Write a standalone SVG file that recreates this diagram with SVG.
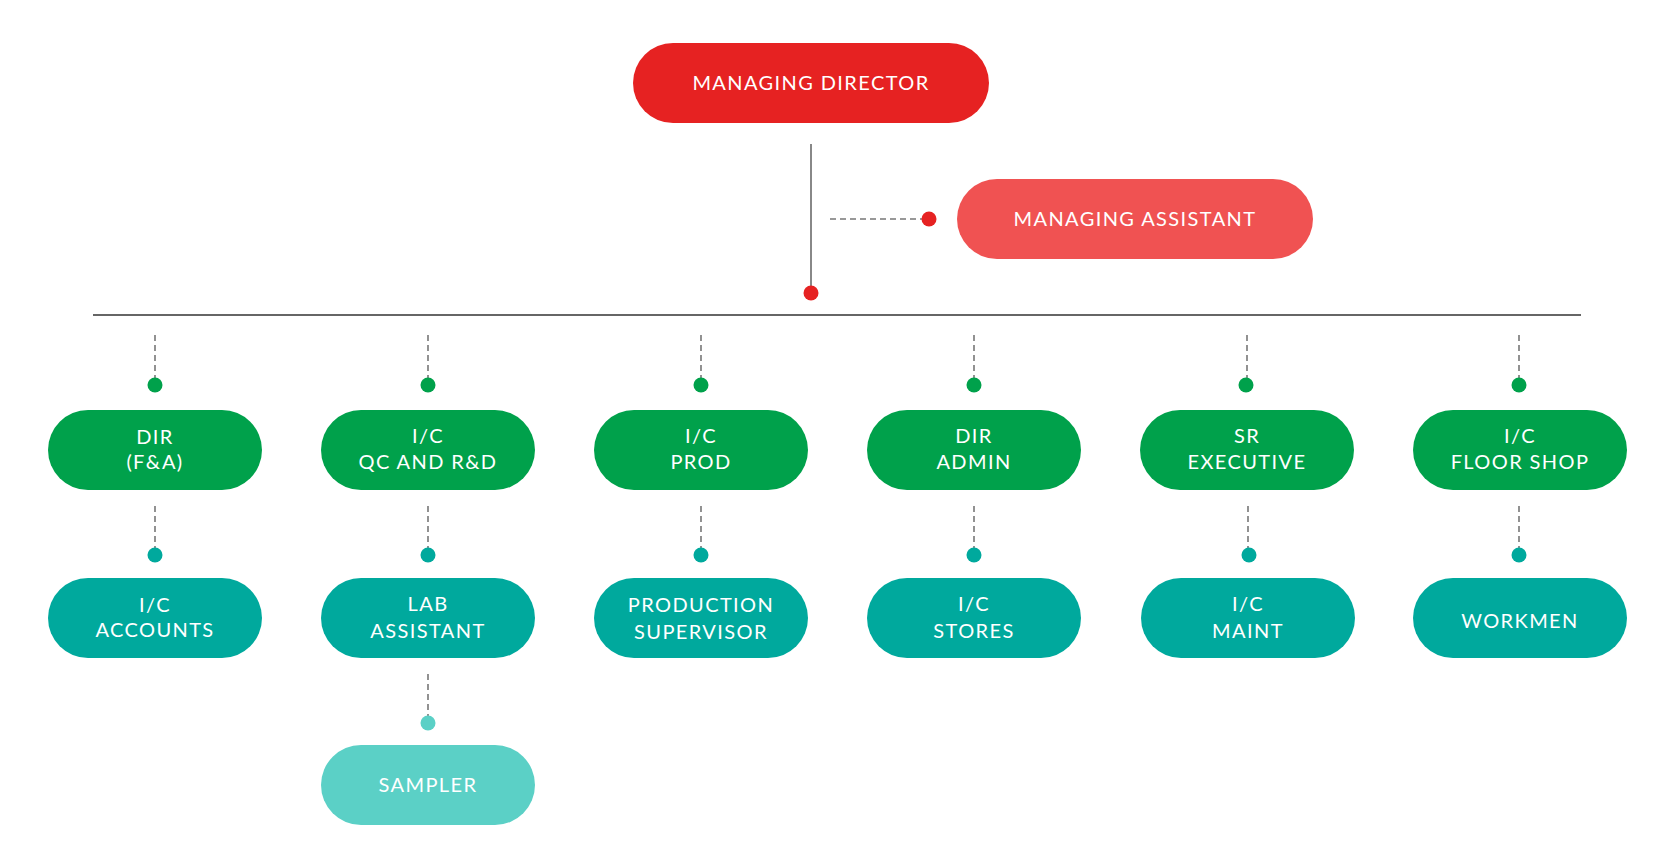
<svg xmlns="http://www.w3.org/2000/svg" width="1679" height="849" viewBox="0 0 1679 849">
<style>
text{font-family:Lato,"Open Sans","Liberation Sans",sans-serif;font-size:20px;fill:#ffffff;text-anchor:middle;letter-spacing:1.4px}
.red{fill:#E62222}.pink{fill:#F05252}.green{fill:#00A14B}.teal{fill:#00A99D}.light{fill:#5BD0C6}
.dash{stroke:#777;stroke-width:1.6;stroke-dasharray:6 4;fill:none}
.solid{stroke:#888;stroke-width:2;fill:none}
.bar{stroke:#666;stroke-width:2;fill:none}
</style>
<rect width="1679" height="849" fill="#ffffff"/>
<g id="connectors">
<line class="solid" x1="811" y1="144" x2="811" y2="292"/>
<circle class="red" cx="811" cy="293" r="7.5"/>
<line class="dash" x1="830" y1="219" x2="922" y2="219"/>
<circle class="red" cx="929" cy="219" r="7.5"/>
<line class="bar" x1="93" y1="315" x2="1581" y2="315"/>
<line class="dash" x1="155" y1="335" x2="155" y2="378"/>
<line class="dash" x1="428" y1="335" x2="428" y2="378"/>
<line class="dash" x1="701" y1="335" x2="701" y2="378"/>
<line class="dash" x1="974" y1="335" x2="974" y2="378"/>
<line class="dash" x1="1247" y1="335" x2="1247" y2="378"/>
<line class="dash" x1="1519" y1="335" x2="1519" y2="378"/>
<circle class="green" cx="155" cy="385" r="7.5"/>
<circle class="green" cx="428" cy="385" r="7.5"/>
<circle class="green" cx="701" cy="385" r="7.5"/>
<circle class="green" cx="974" cy="385" r="7.5"/>
<circle class="green" cx="1246" cy="385" r="7.5"/>
<circle class="green" cx="1519" cy="385" r="7.5"/>
<line class="dash" x1="155" y1="506" x2="155" y2="548"/>
<line class="dash" x1="428" y1="506" x2="428" y2="548"/>
<line class="dash" x1="701" y1="506" x2="701" y2="548"/>
<line class="dash" x1="974" y1="506" x2="974" y2="548"/>
<line class="dash" x1="1248" y1="506" x2="1248" y2="548"/>
<line class="dash" x1="1519" y1="506" x2="1519" y2="548"/>
<circle class="teal" cx="155" cy="555" r="7.5"/>
<circle class="teal" cx="428" cy="555" r="7.5"/>
<circle class="teal" cx="701" cy="555" r="7.5"/>
<circle class="teal" cx="974" cy="555" r="7.5"/>
<circle class="teal" cx="1249" cy="555" r="7.5"/>
<circle class="teal" cx="1519" cy="555" r="7.5"/>
<line class="dash" x1="428" y1="674" x2="428" y2="716"/>
<circle class="light" cx="428" cy="723" r="7.5"/>
</g>
<g id="managing-director"><rect class="red" x="633" y="43" width="356" height="80" rx="40"/><text x="811" y="90">MANAGING DIRECTOR</text></g>
<g id="managing-assistant"><rect class="pink" x="957" y="179" width="356" height="80" rx="40"/><text x="1135" y="226">MANAGING ASSISTANT</text></g>
<g id="dir-fa"><rect class="green" x="48" y="410" width="214" height="80" rx="40"/><text x="155" y="444">DIR</text><text x="155" y="469">(F&amp;A)</text></g>
<g id="ic-qc"><rect class="green" x="321" y="410" width="214" height="80" rx="40"/><text x="428" y="443">I/C</text><text x="428" y="469">QC AND R&amp;D</text></g>
<g id="ic-prod"><rect class="green" x="594" y="410" width="214" height="80" rx="40"/><text x="701" y="443">I/C</text><text x="701" y="469">PROD</text></g>
<g id="dir-admin"><rect class="green" x="867" y="410" width="214" height="80" rx="40"/><text x="974" y="443">DIR</text><text x="974" y="469">ADMIN</text></g>
<g id="sr-exec"><rect class="green" x="1140" y="410" width="214" height="80" rx="40"/><text x="1247" y="443">SR</text><text x="1247" y="469">EXECUTIVE</text></g>
<g id="ic-floor"><rect class="green" x="1413" y="410" width="214" height="80" rx="40"/><text x="1520" y="443">I/C</text><text x="1520" y="469">FLOOR SHOP</text></g>
<g id="ic-accounts"><rect class="teal" x="48" y="578" width="214" height="80" rx="40"/><text x="155" y="612">I/C</text><text x="155" y="637">ACCOUNTS</text></g>
<g id="lab-assistant"><rect class="teal" x="321" y="578" width="214" height="80" rx="40"/><text x="428" y="611">LAB</text><text x="428" y="638">ASSISTANT</text></g>
<g id="prod-supervisor"><rect class="teal" x="594" y="578" width="214" height="80" rx="40"/><text x="701" y="612">PRODUCTION</text><text x="701" y="639">SUPERVISOR</text></g>
<g id="ic-stores"><rect class="teal" x="867" y="578" width="214" height="80" rx="40"/><text x="974" y="611">I/C</text><text x="974" y="638">STORES</text></g>
<g id="ic-maint"><rect class="teal" x="1141" y="578" width="214" height="80" rx="40"/><text x="1248" y="611">I/C</text><text x="1248" y="638">MAINT</text></g>
<g id="workmen"><rect class="teal" x="1413" y="578" width="214" height="80" rx="40"/><text x="1520" y="628">WORKMEN</text></g>
<g id="sampler"><rect class="light" x="321" y="745" width="214" height="80" rx="40"/><text x="428" y="792">SAMPLER</text></g>
</svg>
